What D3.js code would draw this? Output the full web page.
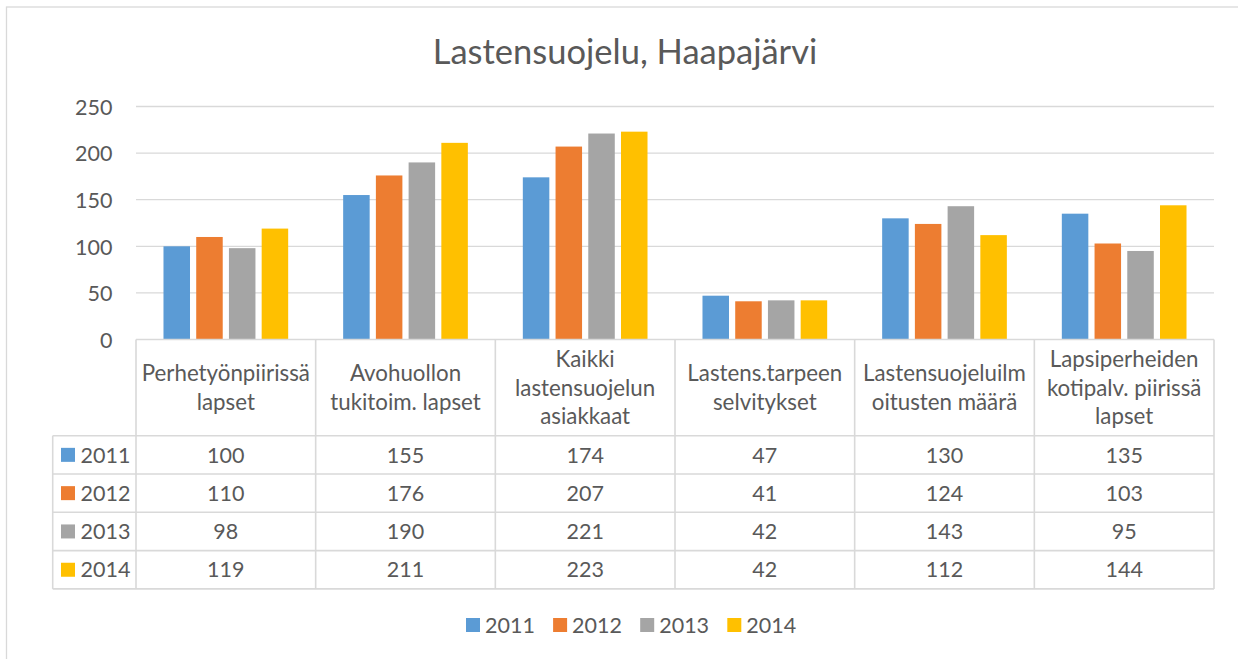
<!DOCTYPE html>
<html><head><meta charset="utf-8">
<script src="https://cdn.jsdelivr.net/npm/d3@7"></script>
<style>html,body{margin:0;padding:0;background:#fff;}svg{display:block;}</style>
</head><body>
<svg id="chart" width="1238" height="659"></svg>
<script>
const title = "Lastensuojelu, Haapajärvi";
const categories = [
  "Perhetyönpiirissä lapset",
  "Avohuollon tukitoim. lapset",
  "Kaikki lastensuojelun asiakkaat",
  "Lastens.tarpeen selvitykset",
  "Lastensuojeluilmoitusten määrä",
  "Lapsiperheiden kotipalv. piirissä lapset"
];
const categoryLines = [
  ["Perhetyönpiirissä", "lapset"],
  ["Avohuollon", "tukitoim. lapset"],
  ["Kaikki", "lastensuojelun", "asiakkaat"],
  ["Lastens.tarpeen", "selvitykset"],
  ["Lastensuojeluilm", "oitusten määrä"],
  ["Lapsiperheiden", "kotipalv. piirissä", "lapset"]
];
const years = ["2011", "2012", "2013", "2014"];
const values2011 = [100, 155, 174, 47, 130, 135];
const values2012 = [110, 176, 207, 41, 124, 103];
const values2013 = [98, 190, 221, 42, 143, 95];
const values2014 = [119, 211, 223, 42, 112, 144];
const yTicks = [0, 50, 100, 150, 200, 250];
const colors = ["#5B9BD5", "#ED7D31", "#A5A5A5", "#FFC000"];

const series = [values2011, values2012, values2013, values2014];

const svg = d3.select("#chart");
const FONT = "Lato, 'Open Sans', sans-serif";
const TXT = "#595959";
const GRID = "#D9D9D9";

// outer chart border
svg.append("rect").attr("x", 6.5).attr("y", 7).attr("width", 1240).attr("height", 660)
  .attr("fill", "#fff").attr("stroke", GRID).attr("stroke-width", 1.3);

// title
svg.append("text").attr("x", 625).attr("y", 64).attr("text-anchor", "middle")
  .attr("font-family", FONT).attr("font-size", 34.5).attr("fill", TXT).text(title);

const plotL = 136, plotR = 1214, plotT = 106.5, plotB = 339.5;
const x0 = d3.scaleBand().domain(categories).range([plotL, plotR]).paddingInner(0).paddingOuter(0);
const groupW = x0.bandwidth() * 0.694;
const x1 = d3.scaleBand().domain(years).range([0, groupW]).paddingInner(0.19).paddingOuter(0);
const y = d3.scaleLinear().domain([0, 250]).range([plotB, plotT]);

// gridlines
svg.append("g").selectAll("line").data(yTicks.filter(d => d > 0)).join("line")
  .attr("x1", plotL).attr("x2", plotR).attr("y1", d => y(d)).attr("y2", d => y(d))
  .attr("stroke", GRID).attr("stroke-width", 1.3);

// y axis labels
const yAxis = d3.axisLeft(y).tickValues(yTicks).tickSize(0).tickPadding(0);
const ga = svg.append("g").attr("transform", `translate(${112.5},0)`).call(yAxis);
ga.select(".domain").remove();
ga.selectAll("text").attr("font-family", FONT).attr("font-size", 21.5).attr("fill", TXT).attr("dy", "0.36em");

// bars
const groups = svg.append("g").selectAll("g").data(categories).join("g")
  .attr("transform", c => `translate(${x0(c) + (x0.bandwidth() - groupW) / 2},0)`);
groups.selectAll("rect").data((c, i) => years.map((yr, s) => ({ yr, s, v: series[s][i] }))).join("rect")
  .attr("x", d => x1(d.yr)).attr("width", x1.bandwidth())
  .attr("y", d => y(d.v)).attr("height", d => y(0) - y(d.v))
  .attr("fill", d => colors[d.s]);

// data table
const headT = plotB, headB = 435.7, rowH = 38.3, legL = 52.7;
const tableB = headB + rowH * years.length;
const tg = svg.append("g").attr("stroke", GRID).attr("stroke-width", 1.6);
tg.append("line").attr("x1", plotL).attr("x2", plotR).attr("y1", headT).attr("y2", headT);
years.forEach((yr, r) => {
  tg.append("line").attr("x1", legL).attr("x2", plotR).attr("y1", headB + r * rowH).attr("y2", headB + r * rowH);
});
tg.append("line").attr("x1", legL).attr("x2", plotR).attr("y1", tableB).attr("y2", tableB);
tg.append("line").attr("x1", legL).attr("x2", legL).attr("y1", headB).attr("y2", tableB);
categories.forEach(c => {
  tg.append("line").attr("x1", x0(c)).attr("x2", x0(c)).attr("y1", headT).attr("y2", tableB);
});
tg.append("line").attr("x1", plotR).attr("x2", plotR).attr("y1", headT).attr("y2", tableB);

// category labels
const lineH = 28.7;
categories.forEach((c, i) => {
  const lines = categoryLines[i];
  const cx = x0(c) + x0.bandwidth() / 2;
  const cy = (headT + headB) / 2;
  const t = svg.append("text").attr("text-anchor", "middle").attr("font-family", FONT)
    .attr("font-size", 22.3).attr("fill", TXT);
  lines.forEach((ln, k) => {
    t.append("tspan").attr("x", cx).attr("y", cy + (k - (lines.length - 1) / 2) * lineH).attr("dy", "0.36em").text(ln);
  });
});

// table rows
years.forEach((yr, r) => {
  const cy = headB + r * rowH + rowH / 2;
  svg.append("rect").attr("x", 61).attr("y", cy - 7).attr("width", 14).attr("height", 14).attr("fill", colors[r]);
  svg.append("text").attr("x", 80.5).attr("y", cy).attr("dy", "0.36em").attr("font-family", FONT)
    .attr("font-size", 21.5).attr("fill", TXT).text(yr);
  categories.forEach((c, i) => {
    svg.append("text").attr("x", x0(c) + x0.bandwidth() / 2).attr("y", cy).attr("dy", "0.36em")
      .attr("text-anchor", "middle").attr("font-family", FONT).attr("font-size", 21.5).attr("fill", TXT)
      .text(series[r][i]);
  });
});

// legend
const legX = d3.scalePoint().domain(years).range([466, 727.3]);
const lg = svg.append("g").selectAll("g").data(years).join("g")
  .attr("transform", yr => `translate(${legX(yr)},625)`);
lg.append("rect").attr("x", 0).attr("y", -7).attr("width", 14).attr("height", 14).attr("fill", (d, i) => colors[i]);
lg.append("text").attr("x", 19).attr("y", 0).attr("dy", "0.36em").attr("font-family", FONT)
  .attr("font-size", 21.5).attr("fill", TXT).text(d => d);
</script>
</body></html>
